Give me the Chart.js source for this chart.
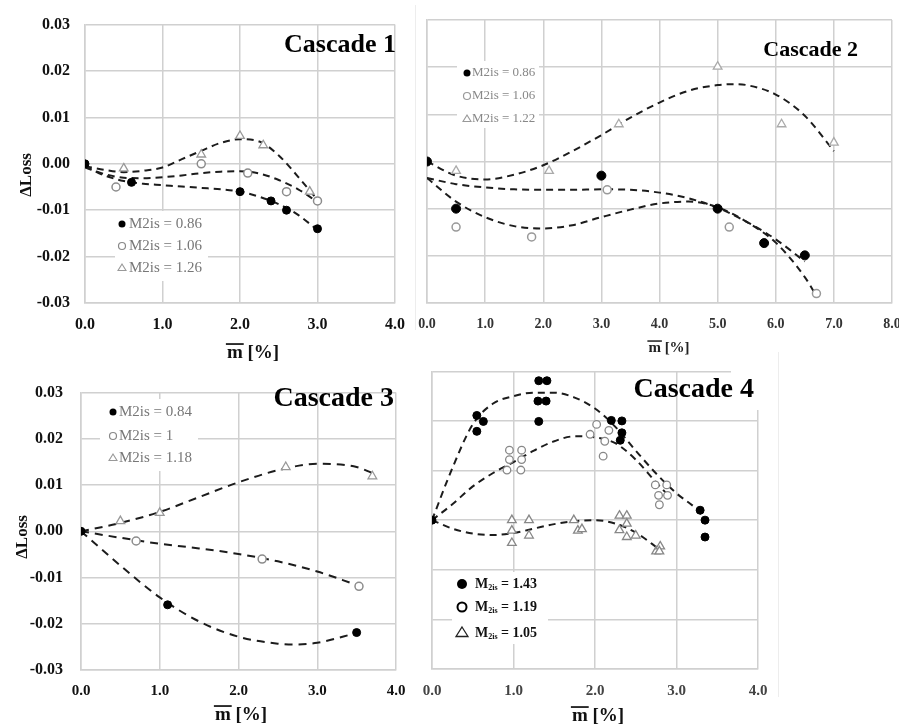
<!DOCTYPE html>
<html><head><meta charset="utf-8">
<script src="https://cdn.jsdelivr.net/npm/chart.js@4.4.1/dist/chart.umd.min.js"></script>
<style>
html,body{margin:0;padding:0;background:#fff;width:899px;height:727px;overflow:hidden;position:relative}
canvas{position:absolute}
.sep{position:absolute;background:#ededed;width:1px}
</style></head><body>
<div class="sep" style="left:415px;top:5px;height:325px"></div>
<div class="sep" style="left:778px;top:352px;height:345px"></div>
<canvas id="c1" width="420" height="365" style="left:0;top:0"></canvas>
<canvas id="c2" width="510" height="365" style="left:405px;top:0"></canvas>
<canvas id="c3" width="420" height="362" style="left:0;top:365px"></canvas>
<canvas id="c4" width="385" height="362" style="left:405px;top:365px"></canvas>
<script>
// ---------- DATA ----------
const yTickValues = [-0.03, -0.02, -0.01, 0.00, 0.01, 0.02, 0.03];

// Cascade 1
const c1_x_086 = [0, 0.6, 2.0, 2.4, 2.6, 3.0];
const c1_y_086 = [0, -0.004, -0.006, -0.008, -0.010, -0.014];
const c1_x_106 = [0.4, 1.5, 2.1, 2.6, 3.0];
const c1_y_106 = [-0.005, 0.0, -0.002, -0.006, -0.008];
const c1_x_126 = [0.5, 1.5, 2.0, 2.3, 2.9];
const c1_y_126 = [-0.001, 0.002, 0.006, 0.004, -0.006];
const c1_fit_x = [0, 0.25, 0.5, 0.75, 1.0, 1.25, 1.5, 1.75, 2.0, 2.25, 2.5, 2.75, 3.0];
const c1_fit_086 = [-0.0005, -0.0025, -0.0037, -0.0043, -0.0046, -0.0049, -0.0052, -0.0055, -0.006, -0.0071, -0.0087, -0.011, -0.0143];
const c1_fit_106 = [-0.0008, -0.0022, -0.003, -0.0031, -0.0029, -0.0025, -0.002, -0.0017, -0.0016, -0.0021, -0.0035, -0.0055, -0.0082];
const c1_fit_126 = [-0.0005, -0.0013, -0.0018, -0.0015, -0.0008, 0.001, 0.0028, 0.0045, 0.0053, 0.0048, 0.0018, -0.0028, -0.0078];

// Cascade 2
const c2_x_086 = [0, 0.5, 3.0, 5.0, 5.8, 6.5];
const c2_y_086 = [0, -0.010, -0.003, -0.010, -0.0173, -0.0199];
const c2_x_106 = [0.5, 1.8, 3.1, 5.2, 6.7];
const c2_y_106 = [-0.0139, -0.016, -0.006, -0.0139, -0.028];
const c2_x_122 = [0.5, 2.1, 3.3, 5.0, 6.1, 7.0];
const c2_y_122 = [-0.002, -0.002, 0.0079, 0.0201, 0.0079, 0.004];
const c2_fit_x_086 = [0, 0.5, 1, 1.5, 2, 2.5, 3, 3.5, 4, 4.5, 5, 5.5, 6, 6.5];
const c2_fit_086 = [-0.0035, -0.0048, -0.0055, -0.0059, -0.006, -0.006, -0.0059, -0.006, -0.0066, -0.0078, -0.0098, -0.0128, -0.0165, -0.0212];
const c2_fit_x_106 = [0, 0.5, 1, 1.5, 2, 2.5, 3, 3.5, 4, 4.5, 5, 5.5, 6, 6.5, 6.7];
const c2_fit_106 = [-0.0035, -0.0085, -0.0118, -0.0137, -0.0142, -0.0135, -0.0118, -0.0102, -0.0089, -0.0085, -0.0097, -0.0128, -0.0172, -0.0245, -0.0285];
const c2_fit_x_122 = [0, 0.5, 1, 1.5, 2, 2.5, 3, 3.5, 4, 4.5, 5, 5.3, 5.5, 6, 6.5, 7];
const c2_fit_122 = [0, -0.003, -0.0038, -0.0028, -0.0008, 0.0022, 0.0056, 0.0093, 0.0125, 0.015, 0.0162, 0.0164, 0.0162, 0.0142, 0.0097, 0.0022];

// Cascade 3
const c3_x_084 = [0, 1.1, 3.5];
const c3_y_084 = [0, -0.0159, -0.0219];
const c3_x_100 = [0.7, 2.3, 3.53];
const c3_y_100 = [-0.0021, -0.006, -0.0119];
const c3_x_118 = [0.5, 1.0, 2.6, 3.7];
const c3_y_118 = [0.0022, 0.004, 0.0139, 0.0119];
const c3_fit_x_084 = [0, 0.5, 1, 1.5, 2, 2.5, 2.7, 3, 3.5];
const c3_fit_084 = [0, -0.0074, -0.0143, -0.0195, -0.0228, -0.0243, -0.0245, -0.0241, -0.022];
const c3_fit_x_100 = [0, 0.5, 1, 1.5, 2, 2.5, 3, 3.5];
const c3_fit_100 = [0, -0.0014, -0.0027, -0.0037, -0.0049, -0.0065, -0.0087, -0.0116];
const c3_fit_x_118 = [0, 0.5, 1, 1.5, 2, 2.5, 3, 3.5, 3.7];
const c3_fit_118 = [0, 0.0018, 0.0042, 0.0074, 0.0106, 0.0132, 0.0146, 0.0139, 0.0126];

// Cascade 4
const c4_x_143 = [0, 0.55, 0.63, 0.55, 1.31, 1.41, 1.30, 1.40, 1.31, 2.20, 2.33, 2.33, 2.31, 3.29, 3.35, 3.35];
const c4_y_143 = [0, 0.0211, 0.0199, 0.0179, 0.0281, 0.0281, 0.0240, 0.0240, 0.0199, 0.0201, 0.0200, 0.0176, 0.0161, 0.0020, 0.0, -0.0034];
const c4_x_119 = [0.95, 1.10, 0.95, 1.10, 0.92, 1.09, 2.02, 2.17, 1.94, 2.12, 2.10, 2.74, 2.88, 2.78, 2.89, 2.79];
const c4_y_119 = [0.0141, 0.0141, 0.0122, 0.0122, 0.0101, 0.0101, 0.0193, 0.0181, 0.0173, 0.0159, 0.0129, 0.0071, 0.0071, 0.0050, 0.0050, 0.0031];
const c4_x_105 = [0.98, 0.98, 0.98, 1.19, 1.19, 1.74, 1.79, 1.84, 2.30, 2.39, 2.30, 2.39, 2.39, 2.50, 2.75, 2.80, 2.79];
const c4_y_105 = [0.0, -0.0021, -0.0046, 0.0, -0.0031, 0.0, -0.0021, -0.0018, 0.0009, 0.0009, -0.002, -0.0007, -0.0034, -0.0031, -0.0063, -0.0053, -0.0063];
const c4_fit_x_143 = [0, 0.25, 0.5, 0.75, 1, 1.25, 1.5, 1.75, 2, 2.25, 2.5, 2.75, 3, 3.25, 3.35];
const c4_fit_143 = [0, 0.0105, 0.0193, 0.0235, 0.025, 0.0257, 0.0257, 0.0247, 0.0225, 0.0188, 0.014, 0.0094, 0.0054, 0.0022, 0.0004];
const c4_fit_x_119 = [0, 0.25, 0.5, 0.75, 1, 1.25, 1.5, 1.75, 2, 2.25, 2.5, 2.75, 2.9];
const c4_fit_119 = [0, 0.0032, 0.0068, 0.0095, 0.0117, 0.014, 0.0159, 0.0169, 0.0167, 0.0155, 0.0122, 0.0076, 0.005];
const c4_fit_x_105 = [0, 0.25, 0.5, 0.75, 1, 1.25, 1.5, 1.75, 2, 2.25, 2.5, 2.8];
const c4_fit_105 = [0, -0.0017, -0.0027, -0.003, -0.0026, -0.0017, -0.0008, -0.0002, 0.0, -0.0007, -0.0025, -0.006];

// ---------- HELPERS ----------
const SERIF = '"Liberation Serif", "Times New Roman", serif';
const zip = (xs, ys) => xs.map((x, i) => ({x: x, y: ys[i]}));

function drawMarker(ctx, style, x, y, r, fill, stroke, bw) {
  ctx.save();
  ctx.beginPath();
  if (style === 'triangle') {
    const h = r * 1.5;
    ctx.moveTo(x, y - r);
    ctx.lineTo(x + h * 0.577 * 1.15, y + r * 0.5 + 0.5);
    ctx.lineTo(x - h * 0.577 * 1.15, y + r * 0.5 + 0.5);
    ctx.closePath();
  } else {
    ctx.arc(x, y, r, 0, Math.PI * 2);
  }
  ctx.fillStyle = fill; ctx.fill();
  if (bw > 0) { ctx.lineWidth = bw; ctx.strokeStyle = stroke; ctx.stroke(); }
  ctx.restore();
}

const decor = {
  id: 'decor',
  beforeDatasetsDraw(chart, args, o) {
    const ctx = chart.ctx, ox = o.off[0], oy = o.off[1];
    ctx.save();
    ctx.fillStyle = '#fff';
    (o.masks || []).forEach(m => ctx.fillRect(m[0] - ox, m[1] - oy, m[2], m[3]));
    ctx.restore();
  },
  afterDraw(chart, args, o) {
    const ctx = chart.ctx, ox = o.off[0], oy = o.off[1];
    ctx.save();
    const t = o.title;
    ctx.font = 'bold ' + t.size + 'px ' + SERIF;
    ctx.fillStyle = '#000';
    ctx.textAlign = 'right';
    ctx.textBaseline = 'alphabetic';
    ctx.fillText(t.text, t.x - ox, t.y - oy);
    if (o.yTitle) {
      ctx.save();
      ctx.translate(o.yTitle.x - ox, o.yTitle.y - oy);
      ctx.rotate(-Math.PI / 2);
      ctx.font = 'bold ' + o.yTitle.size + 'px ' + SERIF;
      ctx.textAlign = 'center';
      ctx.textBaseline = 'middle';
      ctx.fillStyle = '#111';
      ctx.fillText(o.yTitle.text, 0, 0);
      ctx.restore();
    }
    const xt = o.xTitle;
    ctx.font = 'bold ' + xt.size + 'px ' + SERIF;
    ctx.textAlign = 'left';
    ctx.fillStyle = xt.color;
    const mw = ctx.measureText('m').width;
    const rw = ctx.measureText(' [%]').width;
    const sx = xt.x - ox - (mw + rw) / 2;
    const by = xt.y - oy;
    ctx.fillText('m', sx, by);
    ctx.fillText(' [%]', sx + mw, by);
    ctx.fillRect(sx - 1, by - xt.size * 0.78, mw + 2, Math.max(1.5, xt.size * 0.09));
    const L = o.legend;
    L.entries.forEach((e, i) => {
      const my = L.ys[i] - oy, mx = L.mx - ox;
      drawMarker(ctx, e.style, mx, my, e.r, e.fill, e.stroke, e.bw);
      ctx.fillStyle = L.color;
      ctx.textBaseline = 'middle';
      ctx.textAlign = 'left';
      ctx.font = (L.bold ? 'bold ' : '') + L.size + 'px ' + SERIF;
      let tx = L.tx - ox;
      if (e.sub) {
        ctx.fillText(e.main, tx, my);
        tx += ctx.measureText(e.main).width;
        ctx.font = (L.bold ? 'bold ' : '') + Math.round(L.size * 0.55) + 'px ' + SERIF;
        ctx.fillText(e.sub, tx, my + 4);
        tx += ctx.measureText(e.sub).width;
        ctx.font = (L.bold ? 'bold ' : '') + L.size + 'px ' + SERIF;
        ctx.fillText(e.tail, tx, my);
      } else {
        ctx.fillText(e.text, tx, my);
      }
    });
    ctx.restore();
  }
};

function curveDS(xs, ys, dash, w) {
  return {data: zip(xs, ys), showLine: true, borderColor: '#1c1c1c', borderWidth: w || 2,
    borderDash: dash || [7, 5], pointRadius: 0, pointHoverRadius: 0, cubicInterpolationMode: 'monotone',
    tension: 0.4, fill: false, order: 10};
}
function pointDS(xs, ys, st) {
  return {data: zip(xs, ys), showLine: false, pointStyle: st.style, pointRadius: st.r,
    pointBackgroundColor: st.fill, pointBorderColor: st.stroke, pointBorderWidth: st.bw, order: st.order};
}

function makeChart(id, cfg) {
  const gridColor = '#d0d0d0';
  return new Chart(document.getElementById(id), {
    type: 'scatter',
    data: {datasets: cfg.datasets},
    options: {
      responsive: false, animation: false, devicePixelRatio: 1,
      events: [],
      layout: {padding: {left: 0, top: cfg.padTop, right: cfg.padRight, bottom: 0}},
      plugins: {legend: {display: false}, tooltip: {enabled: false}, decor: cfg.decor},
      scales: {
        x: {
          type: 'linear', min: 0, max: cfg.xMax,
          ticks: {stepSize: 1, autoSkip: false, maxRotation: 0, padding: cfg.xPad, color: cfg.tickColor,
            font: {family: SERIF, size: cfg.xFont, weight: 'bold'},
            callback: v => v.toFixed(1)},
          grid: {color: gridColor, lineWidth: 1.5, drawTicks: false},
          border: {color: gridColor, width: 1.5},
          afterFit: s => { s.height = cfg.xH; }
        },
        y: {
          type: 'linear', min: -0.03, max: 0.03,
          afterBuildTicks: s => { s.ticks = yTickValues.map(v => ({value: v})); },
          ticks: {display: cfg.yLabels, padding: cfg.yPad, color: cfg.tickColor,
            font: {family: SERIF, size: cfg.yFont, weight: 'bold'},
            callback: v => (Math.abs(v) < 1e-9 ? 0 : v).toFixed(2)},
          grid: {color: gridColor, lineWidth: 1.5, drawTicks: false},
          border: {color: gridColor, width: 1.5},
          afterFit: s => { s.width = cfg.yW; }
        }
      }
    },
    plugins: [decor]
  });
}

const FILLED = {style: 'circle', r: 4, fill: '#000', stroke: '#000', bw: 1, order: 0};
const OPEN = {style: 'circle', r: 4, fill: '#fff', stroke: '#8c8c8c', bw: 1.5, order: 1};
const TRI = {style: 'triangle', r: 5, fill: '#fff', stroke: '#999', bw: 1.3, order: 2};

makeChart('c1', {
  xMax: 4, padTop: 20, padRight: 25, xH: 62, yW: 85, xPad: 12, yPad: 15, xFont: 16, yFont: 16,
  yLabels: true, tickColor: '#111',
  datasets: [
    curveDS(c1_fit_x, c1_fit_086), curveDS(c1_fit_x, c1_fit_106), curveDS(c1_fit_x, c1_fit_126),
    pointDS(c1_x_086, c1_y_086, FILLED), pointDS(c1_x_106, c1_y_106, OPEN), pointDS(c1_x_126, c1_y_126, TRI)
  ],
  decor: {
    off: [0, 0],
    masks: [[115, 211, 93, 70]],
    title: {text: 'Cascade 1', size: 26, x: 396, y: 52},
    yTitle: {text: 'ΔLoss', x: 27, y: 175, size: 17},
    xTitle: {x: 253, y: 358, size: 19, color: '#111'},
    legend: {mx: 122, tx: 129, ys: [224, 246, 268], size: 15, color: '#777', bold: false,
      entries: [
        {style: 'circle', r: 3.5, fill: '#000', stroke: '#000', bw: 0, text: 'M2is = 0.86'},
        {style: 'circle', r: 3.5, fill: '#fff', stroke: '#888', bw: 1.2, text: 'M2is = 1.06'},
        {style: 'triangle', r: 4, fill: '#fff', stroke: '#999', bw: 1.1, text: 'M2is = 1.26'}
      ]}
  }
});

makeChart('c2', {
  xMax: 8, padTop: 20, padRight: 23, xH: 62, yW: 22, xPad: 13, yPad: 0, xFont: 14, yFont: 14,
  yLabels: false, tickColor: '#333',
  datasets: [
    curveDS(c2_fit_x_086, c2_fit_086), curveDS(c2_fit_x_106, c2_fit_106), curveDS(c2_fit_x_122, c2_fit_122),
    pointDS(c2_x_086, c2_y_086, {style: 'circle', r: 4.5, fill: '#000', stroke: '#000', bw: 1, order: 0}),
    pointDS(c2_x_106, c2_y_106, {style: 'circle', r: 4, fill: '#fff', stroke: '#999', bw: 1.5, order: 1}),
    pointDS(c2_x_122, c2_y_122, {style: 'triangle', r: 5, fill: '#fff', stroke: '#aaa', bw: 1.3, order: 2})
  ],
  decor: {
    off: [405, 0],
    masks: [[457, 61, 82, 67]],
    title: {text: 'Cascade 2', size: 22, x: 858, y: 56},
    xTitle: {x: 669, y: 352, size: 15, color: '#222'},
    legend: {mx: 467, tx: 472, ys: [73, 96, 119], size: 13, color: '#888', bold: false,
      entries: [
        {style: 'circle', r: 3.5, fill: '#000', stroke: '#000', bw: 0, text: 'M2is = 0.86'},
        {style: 'circle', r: 3.5, fill: '#fff', stroke: '#999', bw: 1.2, text: 'M2is = 1.06'},
        {style: 'triangle', r: 4, fill: '#fff', stroke: '#999', bw: 1.1, text: 'M2is = 1.22'}
      ]}
  }
});

makeChart('c3', {
  xMax: 4, padTop: 15, padRight: 24, xH: 57, yW: 81, xPad: 12, yPad: 18, xFont: 15, yFont: 16,
  yLabels: true, tickColor: '#111',
  datasets: [
    curveDS(c3_fit_x_084, c3_fit_084, [8, 6]), curveDS(c3_fit_x_100, c3_fit_100, [8, 6]), curveDS(c3_fit_x_118, c3_fit_118, [8, 6]),
    pointDS(c3_x_084, c3_y_084, FILLED), pointDS(c3_x_100, c3_y_100, OPEN), pointDS(c3_x_118, c3_y_118, TRI)
  ],
  decor: {
    off: [0, 365],
    masks: [[100, 399, 98, 72]],
    title: {text: 'Cascade 3', size: 28, x: 394, y: 406},
    yTitle: {text: 'ΔLoss', x: 23, y: 537, size: 17},
    xTitle: {x: 241, y: 720, size: 19, color: '#111'},
    legend: {mx: 113, tx: 119, ys: [412, 436, 458], size: 15, color: '#777', bold: false,
      entries: [
        {style: 'circle', r: 3.5, fill: '#000', stroke: '#000', bw: 0, text: 'M2is = 0.84'},
        {style: 'circle', r: 3.5, fill: '#fff', stroke: '#888', bw: 1.2, text: 'M2is = 1'},
        {style: 'triangle', r: 4, fill: '#fff', stroke: '#999', bw: 1.1, text: 'M2is = 1.18'}
      ]}
  }
});

makeChart('c4', {
  xMax: 4, padTop: 5, padRight: 32, xH: 58, yW: 27, xPad: 13, yPad: 0, xFont: 15, yFont: 15,
  yLabels: false, tickColor: '#444',
  datasets: [
    curveDS(c4_fit_x_143, c4_fit_143), curveDS(c4_fit_x_119, c4_fit_119), curveDS(c4_fit_x_105, c4_fit_105),
    pointDS(c4_x_143, c4_y_143, {style: 'circle', r: 4, fill: '#000', stroke: '#000', bw: 1, order: 0}),
    pointDS(c4_x_119, c4_y_119, {style: 'circle', r: 3.8, fill: '#fff', stroke: '#888', bw: 1.3, order: 1}),
    pointDS(c4_x_105, c4_y_105, {style: 'triangle', r: 5, fill: '#fff', stroke: '#888', bw: 1.3, order: 2})
  ],
  decor: {
    off: [405, 365],
    masks: [[452, 572, 96, 72], [731, 363, 36, 47]],
    title: {text: 'Cascade 4', size: 28, x: 754, y: 397},
    xTitle: {x: 598, y: 721, size: 19, color: '#111'},
    legend: {mx: 462, tx: 475, ys: [584, 607, 633], size: 14, color: '#111', bold: true,
      entries: [
        {style: 'circle', r: 5, fill: '#000', stroke: '#000', bw: 0, main: 'M', sub: '2is', tail: ' = 1.43'},
        {style: 'circle', r: 4.5, fill: '#fff', stroke: '#000', bw: 2, main: 'M', sub: '2is', tail: ' = 1.19'},
        {style: 'triangle', r: 6, fill: '#fff', stroke: '#222', bw: 1.3, main: 'M', sub: '2is', tail: ' = 1.05'}
      ]}
  }
});
</script>
</body></html>
